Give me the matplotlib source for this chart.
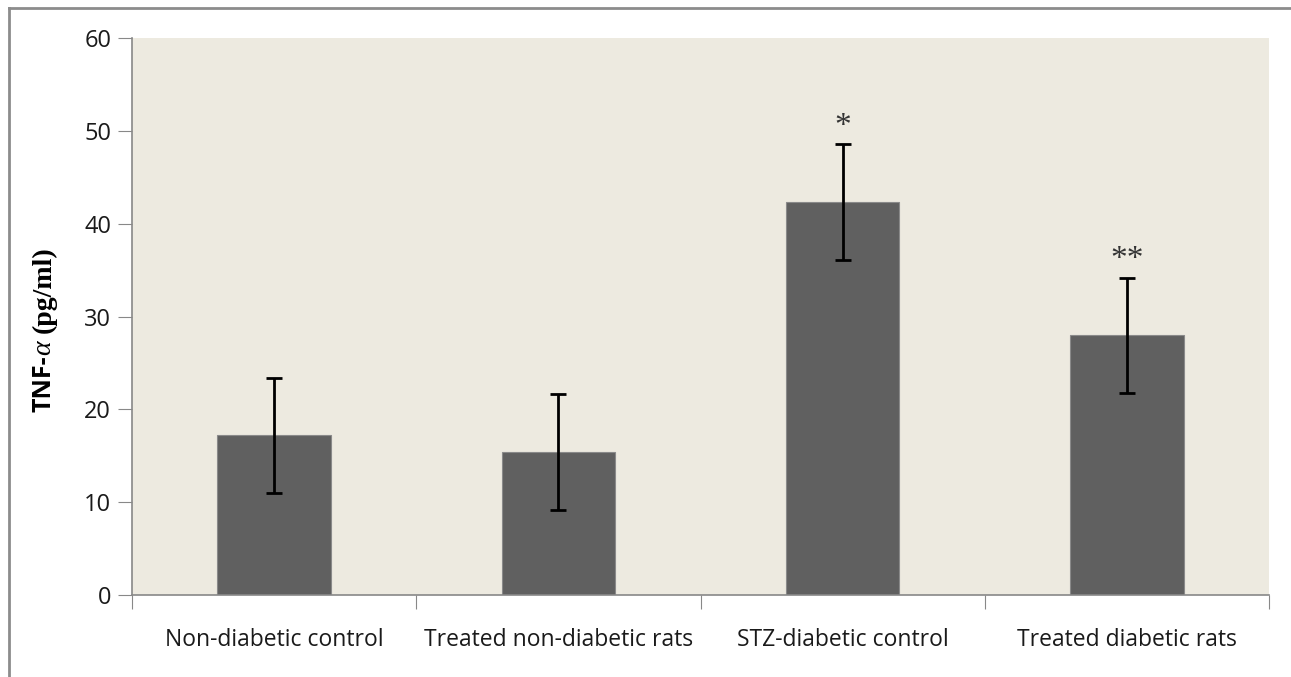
import numpy as np
import matplotlib.pyplot as plt
from matplotlib.lines import Line2D

groups = ['Non-diabetic control', 'Treated non-diabetic rats',
          'STZ-diabetic control', 'Treated diabetic rats']
tnf_mean = [17.2, 15.4, 42.3, 28.0]
tnf_err = [6.2, 6.2, 6.25, 6.2]
marks = ['', '', '*', '**']

fig = plt.figure(figsize=(12.91, 6.77), dpi=100)
ax = fig.add_axes([132 / 1291, 82 / 677, 1137 / 1291, 557 / 677])

x = np.arange(len(groups))
ax.bar(x, tnf_mean, width=0.4, color='#606060', edgecolor='#8a8a8a',
       linewidth=0.8, zorder=2)
ax.errorbar(x, tnf_mean, yerr=tnf_err, fmt='none', ecolor='black',
            elinewidth=2, capsize=6, capthick=2, zorder=3)

for xi, m, e in zip(x, tnf_mean, tnf_err):
    if marks[xi]:
        ax.text(xi, m + e + 1.9, marks[xi], ha='center', va='center',
                fontsize=24, color='#333333', family='Liberation Serif')

ax.set_facecolor('#edeae0')
ax.set_xlim(-0.5, 3.5)
ax.set_ylim(0, 60)
ax.set_yticks(np.arange(0, 61, 10))
ax.set_xticks(np.arange(-0.5, 3.6, 1))
ax.set_xticklabels([])
ax.set_xticks(x, minor=True)
ax.set_xticklabels(groups, minor=True)
ax.tick_params(axis='x', which='minor', length=0, pad=24, labelsize=16.5)
ax.tick_params(axis='x', which='major', length=10, color='#888888')
ax.tick_params(axis='y', length=10, color='#888888', pad=5, labelsize=17)
for lab in ax.get_xticklabels(minor=True) + ax.get_yticklabels():
    lab.set_family('Open Sans')
    lab.set_color('#1a1a1a')

for side in ['top', 'right']:
    ax.spines[side].set_visible(False)
for side in ['left', 'bottom']:
    ax.spines[side].set_color('#888888')
    ax.spines[side].set_linewidth(1.2)

# outer frame (left and top edges)
fig.add_artist(Line2D([9 / 1291, 9 / 1291], [0, 1 - 8 / 677],
                      transform=fig.transFigure, color='#8c8c8c', lw=2))
fig.add_artist(Line2D([9 / 1291, 1], [1 - 8 / 677, 1 - 8 / 677],
                      transform=fig.transFigure, color='#8c8c8c', lw=2))

# y label built from pieces: sans "TNF-", italic alpha, serif "(pg/ml)"
fig.canvas.draw()
r = fig.canvas.get_renderer()
y0 = 1 - 412 / 677
xl = 44 / 1291
t1 = fig.text(xl, y0, 'TNF-', rotation=90, ha='center', va='bottom',
              fontsize=18, fontweight='bold', family='Open Sans')
bb = t1.get_window_extent(r)
t2 = fig.text(xl, bb.y1 / fig.bbox.height, 'α', rotation=90, ha='center',
              va='bottom', fontsize=20, fontstyle='italic',
              family='Liberation Serif')
bb = t2.get_window_extent(r)
fig.text(xl, bb.y1 / fig.bbox.height + 0.012, '(pg/ml)', rotation=90,
         ha='center', va='bottom', fontsize=20, fontweight='bold',
         family='Liberation Serif')

fig.savefig('out.png', dpi=100, facecolor='white')
